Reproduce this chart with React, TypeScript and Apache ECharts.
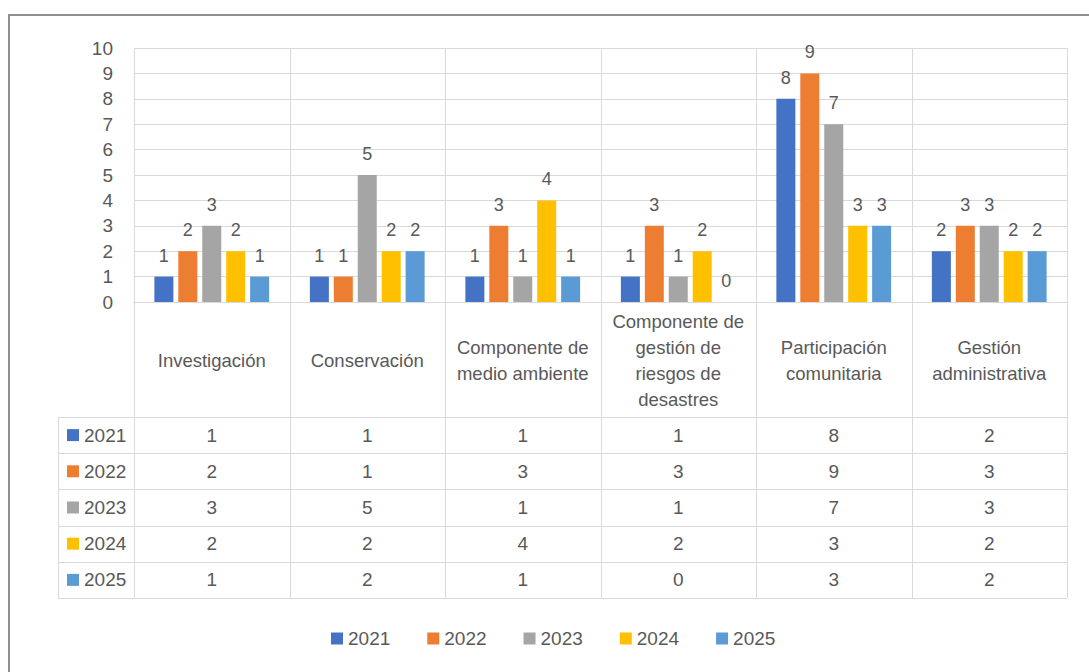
import React, { useEffect, useRef } from "react";
import * as echarts from "echarts";

const categories = [
  "Investigación",
  "Conservación",
  "Componente de\nmedio ambiente",
  "Componente de\ngestión de\nriesgos de\ndesastres",
  "Participación\ncomunitaria",
  "Gestión\nadministrativa",
];
const years = ["2021", "2022", "2023", "2024", "2025"];
const values2021 = [1, 1, 1, 1, 8, 2];
const values2022 = [2, 1, 3, 3, 9, 3];
const values2023 = [3, 5, 1, 1, 7, 3];
const values2024 = [2, 2, 4, 2, 3, 2];
const values2025 = [1, 2, 1, 0, 3, 2];
const seriesValues = [values2021, values2022, values2023, values2024, values2025];
const colors = ["#4472C4", "#ED7D31", "#A5A5A5", "#FFC000", "#5B9BD5"];

const FONT = "'Liberation Sans', Arial, sans-serif";
const TEXT = "#595959";
const GRID = "#d9d9d9";

export default function App() {
  const ref = useRef<HTMLDivElement>(null);
  useEffect(() => {
    if (!ref.current) return;
    const chart = echarts.init(ref.current, null, { renderer: "svg" });
    const option: any = {
      animation: false,
      backgroundColor: "#ffffff",
      textStyle: { fontFamily: FONT },
      grid: { left: 134, right: 22, top: 48, bottom: 370, containLabel: false },
      legend: {
        data: years,
        left: 326,
        top: 624,
        icon: "rect",
        itemWidth: 12,
        itemHeight: 12,
        itemGap: 37,
        textStyle: { fontSize: 19, color: TEXT, fontFamily: FONT },
      },
      xAxis: {
        type: "category",
        data: categories,
        axisLine: { show: true, lineStyle: { color: GRID, width: 1 } },
        axisTick: { show: false },
        splitLine: { show: false },
        axisLabel: {
          show: true,
          interval: 0,
          margin: 58,
          verticalAlign: "middle",
          align: "center",
          fontSize: 18.5,
          lineHeight: 26,
          color: TEXT,
          fontFamily: FONT,
        },
      },
      yAxis: {
        type: "value",
        min: 0,
        max: 10,
        interval: 1,
        axisLine: { show: false },
        axisTick: { show: false },
        splitLine: { show: true, lineStyle: { color: GRID, width: 1 } },
        axisLabel: { margin: 21, fontSize: 19, color: TEXT, fontFamily: FONT },
      },
      series: years.map((y, i) => ({
        name: y,
        type: "bar",
        data: seriesValues[i],
        barWidth: 19,
        barGap: "26%",
        itemStyle: { color: colors[i] },
        label: {
          show: true,
          position: "top",
          distance: 12,
          fontSize: 18,
          color: TEXT,
          fontFamily: FONT,
        },
      })),
    };
    chart.setOption(option);

    const xc = (i: number) => chart.convertToPixel({ xAxisIndex: 0 }, i) as number;
    const band = xc(1) - xc(0);
    const yZero = chart.convertToPixel({ yAxisIndex: 0 }, 0) as number;
    const yTop = chart.convertToPixel({ yAxisIndex: 0 }, 10) as number;
    const headerH = 115;
    const rowH = 36.2;
    const tableLeft = 58;
    const firstRowTop = yZero + headerH;
    const tableBottom = firstRowTop + rowH * years.length;
    const plotLeft = xc(0) - band / 2;
    const plotRight = xc(categories.length - 1) + band / 2;

    const els: any[] = [];
    const line = (x1: number, y1: number, x2: number, y2: number) =>
      els.push({
        type: "line",
        silent: true,
        shape: { x1, y1, x2, y2 },
        style: { stroke: GRID, lineWidth: 1 },
      });
    for (let i = 0; i <= categories.length; i++) {
      const x = Math.round(plotLeft + band * i) + 0.5;
      line(x, yTop, x, tableBottom);
    }
    line(tableLeft + 0.5, firstRowTop, tableLeft + 0.5, tableBottom);
    for (let r = 0; r <= years.length; r++) {
      const y = Math.round(firstRowTop + rowH * r) + 0.5;
      line(tableLeft, y, plotRight, y);
    }
    years.forEach((yr, r) => {
      const cy = firstRowTop + rowH * (r + 0.5);
      els.push({
        type: "rect",
        silent: true,
        shape: { x: 67, y: cy - 6, width: 12, height: 12 },
        style: { fill: colors[r] },
      });
      els.push({
        type: "text",
        silent: true,
        x: 84,
        y: cy,
        style: {
          text: yr,
          fontSize: 19,
          fontFamily: FONT,
          fill: TEXT,
          align: "left",
          verticalAlign: "middle",
        },
      });
      seriesValues[r].forEach((v, c) => {
        els.push({
          type: "text",
          silent: true,
          x: xc(c),
          y: cy,
          style: {
            text: String(v),
            fontSize: 19,
            fontFamily: FONT,
            fill: TEXT,
            align: "center",
            verticalAlign: "middle",
          },
        });
      });
    });
    els.push({
      type: "rect",
      silent: true,
      shape: { x: 9, y: 15, width: 1100, height: 700 },
      style: { fill: "none", stroke: "#8f8f8f", lineWidth: 2 },
    });
    chart.setOption({ graphic: els });
    return () => chart.dispose();
  }, []);
  return (
    <div
      ref={ref}
      style={{ position: "fixed", left: 0, top: 0, width: 1089, height: 672 }}
    />
  );
}
